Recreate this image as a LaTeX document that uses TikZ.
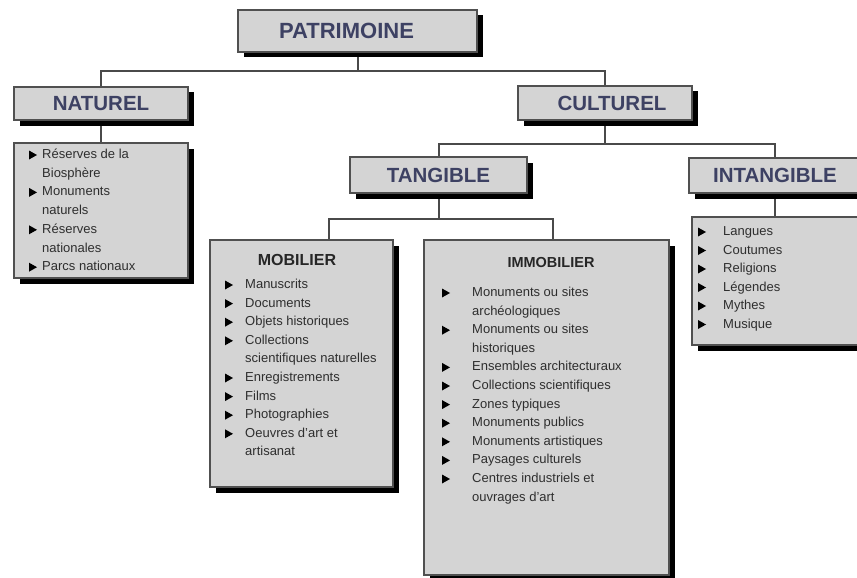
\documentclass[tikz,border=0pt]{standalone}
\usepackage{fontspec}
\setmainfont{Liberation Sans}
\usetikzlibrary{calc,shadows,backgrounds}
\definecolor{boxfill}{HTML}{D4D4D4}
\definecolor{boxline}{HTML}{505050}
\definecolor{headtext}{HTML}{3D4163}
\definecolor{listtext}{HTML}{2E2E2E}
\definecolor{wire}{HTML}{4A4A4A}
% small black arrow-head bullet: #1 = x, #2 = y of its middle
\newcommand\listbullet[2]{\fill[black] (#1,#2) ++(0,-4.5) -- ++(8,4.5) -- ++(-8,4.5) -- cycle;}

\begin{document}
\begin{tikzpicture}[x=1pt,y=-1pt,
  panel/.style={draw=boxline, line width=1.3pt, fill=boxfill, inner sep=0pt,
    drop shadow={shadow xshift=5.5pt, shadow yshift=-5.5pt, fill=black, opacity=1}},
  header/.style={panel, font=\bfseries\fontsize{20.5}{24}\selectfont, text=headtext},
  listline/.style={anchor=west, inner sep=0pt, text height=9.5pt, text depth=2.5pt,
    font=\fontsize{13}{15}\selectfont, text=listtext},
  subtitle/.style={inner sep=0pt, font=\bfseries\fontsize{16}{18}\selectfont, text=black!85},
  wirestyle/.style={draw=wire, line width=2pt},
]
\useasboundingbox (0,0) rectangle (857,578);

% ---- heading boxes
\node[header, minimum width=239pt, minimum height=42pt,
      font=\bfseries\fontsize{22}{26}\selectfont] (pat) at (357.5,31) {\hspace*{-22pt}PATRIMOINE};
\node[header, minimum width=174pt, minimum height=33pt] (nat) at (101,103.5) {NATUREL};
\node[header, minimum width=174pt, minimum height=34pt] (cul) at (605,103) {\hspace*{14pt}CULTUREL};
\node[header, minimum width=177pt, minimum height=36pt] (tan) at (438.5,175) {TANGIBLE};
\node[header, minimum width=172pt, minimum height=35pt] (intan) at (775,175.5) {INTANGIBLE};

% ---- list panels
\node[panel, minimum width=174pt, minimum height=135pt] (natlist) at (101,210.5) {};
\node[panel, minimum width=183pt, minimum height=247pt] (mob) at (301.5,363.5) {};
\node[panel, minimum width=245pt, minimum height=335pt] (immob) at (546.5,407.5) {};
\node[panel, minimum width=170pt, minimum height=128pt] (intanlist) at (777,281) {};

% ---- white page and connectors, behind the boxes
\path (mob.north west) ++(120,0) coordinate (mobin);
\path (immob.north west) ++(130,0) coordinate (immobin);
\begin{scope}[on background layer]
  \fill[white] (0,0) rectangle (857,578);
  \draw[wirestyle] (pat.south) -- ++(0,18) coordinate (j1);
  \draw[wirestyle] (nat.north) |- (j1) -| (cul.north);
  \draw[wirestyle] (nat.south) -- (nat.south |- natlist.north);
  \draw[wirestyle] (cul.south) -- ++(0,23) coordinate (j2);
  \draw[wirestyle] (tan.north) |- (j2) -| (intan.north);
  \draw[wirestyle] (intan.south) -- (intan.south |- intanlist.north);
  \draw[wirestyle] (tan.south) -- ++(0,25) coordinate (j3);
  \draw[wirestyle] (mobin) |- (j3) -| (immobin);
\end{scope}

% ---- NATUREL items
\foreach \y/\b/\t [count=\i] in {155/1/Réserves de la, 173.7/0/Biosphère,
    192.4/1/Monuments, 211.1/0/naturels, 229.8/1/Réserves, 248.5/0/nationales,
    267.2/1/Parcs nationaux}{
  \ifnum\b=1 \listbullet{29}{\y}\fi
  \node[listline] (natl-\i) at (42,\y) {\t};
}

% ---- MOBILIER items
\node[subtitle] (mobtitle) at (297,260) {MOBILIER};
\foreach \y/\b/\t [count=\i] in {285/1/Manuscrits, 303.6/1/Documents,
    322.2/1/Objets historiques, 340.8/1/Collections, 359.4/0/scientifiques naturelles,
    378/1/Enregistrements, 396.6/1/Films, 415.2/1/Photographies,
    433.8/1/Oeuvres d'art et, 452.4/0/artisanat}{
  \ifnum\b=1 \listbullet{225}{\y}\fi
  \node[listline] (mobl-\i) at (245,\y) {\t};
}

% ---- IMMOBILIER items
\node[subtitle, font=\bfseries\fontsize{14.5}{17}\selectfont] (immobtitle) at (551,263) {IMMOBILIER};
\foreach \y/\b/\t [count=\i] in {293/1/Monuments ou sites, 311.6/0/archéologiques,
    330.2/1/Monuments ou sites, 348.8/0/historiques, 367.4/1/Ensembles architecturaux,
    386/1/Collections scientifiques, 404.6/1/Zones typiques, 423.2/1/Monuments publics,
    441.8/1/Monuments artistiques, 460.4/1/Paysages culturels,
    479/1/Centres industriels et, 497.6/0/ouvrages d'art}{
  \ifnum\b=1 \listbullet{442}{\y}\fi
  \node[listline] (immobl-\i) at (472,\y) {\t};
}

% ---- INTANGIBLE items
\foreach \y/\t [count=\i] in {232/Langues, 250.5/Coutumes, 269/Religions,
    287.5/Légendes, 306/Mythes, 324.5/Musique}{
  \listbullet{698}{\y}
  \node[listline] (intanl-\i) at (723,\y) {\t};
}
\end{tikzpicture}
\end{document}
